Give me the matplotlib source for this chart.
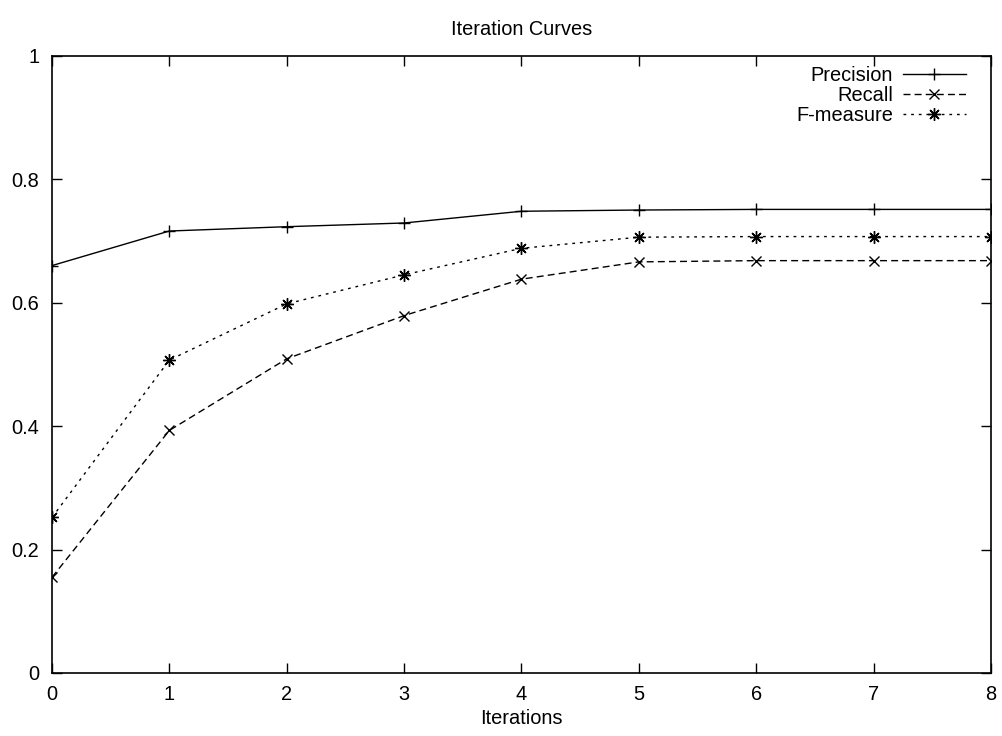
import matplotlib
matplotlib.use("Agg")
import matplotlib.pyplot as plt

plt.rcParams['font.family'] = ['Liberation Sans', 'DejaVu Sans']

iterations = [0, 1, 2, 3, 4, 5, 6, 7, 8]
precision = [0.660, 0.716, 0.723, 0.729, 0.748, 0.750, 0.751, 0.751, 0.751]
recall = [0.155, 0.393, 0.509, 0.579, 0.638, 0.666, 0.668, 0.668, 0.668]
f_measure = [0.252, 0.507, 0.598, 0.645, 0.688, 0.706, 0.707, 0.707, 0.707]

x_ticks = [0, 1, 2, 3, 4, 5, 6, 7, 8]
y_ticks = [0, 0.2, 0.4, 0.6, 0.8, 1]
y_tick_labels = ['0', '0.2', '0.4', '0.6', '0.8', '1']

FS = 14.4
W, H = 1003, 736
ax_l, ax_r, ax_t, ax_b = 52, 991, 55.7, 673
fig = plt.figure(figsize=(W / 100, H / 100), dpi=100)
ax = fig.add_axes([ax_l / W, 1 - ax_b / H, (ax_r - ax_l) / W, (ax_b - ax_t) / H])

asterisk = (8, 2, 0)
ax.plot(iterations, precision, color='black', lw=1.0, linestyle='-',
        marker='+', markersize=9, markeredgewidth=1.0, label='Precision')
ax.plot(iterations, recall, color='black', lw=1.0, linestyle=(0, (5, 3)),
        marker='x', markersize=7.5, markeredgewidth=1.0, label='Recall')
ax.plot(iterations, f_measure, color='black', lw=1.0, linestyle=(0, (2, 3.5)),
        marker=asterisk, markersize=9, markeredgewidth=1.0, label='F-measure')

ax.set_xlim(0, 8)
ax.set_ylim(0, 1)
ax.set_xticks(x_ticks)
ax.set_yticks(y_ticks)
ax.set_yticklabels(y_tick_labels)
ax.tick_params(direction='in', length=7, width=1, top=True, right=True,
               labelsize=FS, colors='black')
ax.tick_params(axis='x', pad=9)
ax.tick_params(axis='y', pad=9)
for s in ax.spines.values():
    s.set_linewidth(1.2)

ax.set_title('Iteration Curves', fontsize=FS, pad=15)
ax.set_xlabel('Iterations', fontsize=FS, labelpad=3)

# legend anchored a little inside the top-right corner
anchor = (1 - 17 / (ax_r - ax_l), 1 - 2 / (ax_b - ax_t))
leg = ax.legend(loc='upper right', bbox_to_anchor=anchor, frameon=False,
                markerfirst=False, fontsize=FS, handlelength=3.15,
                handletextpad=0.5, labelspacing=0.05, borderaxespad=0,
                borderpad=0.4)
for t in leg.get_texts():
    t.set_ha('right')
leg._legend_box.align = 'right'

fig.savefig('out.png', dpi=100)
